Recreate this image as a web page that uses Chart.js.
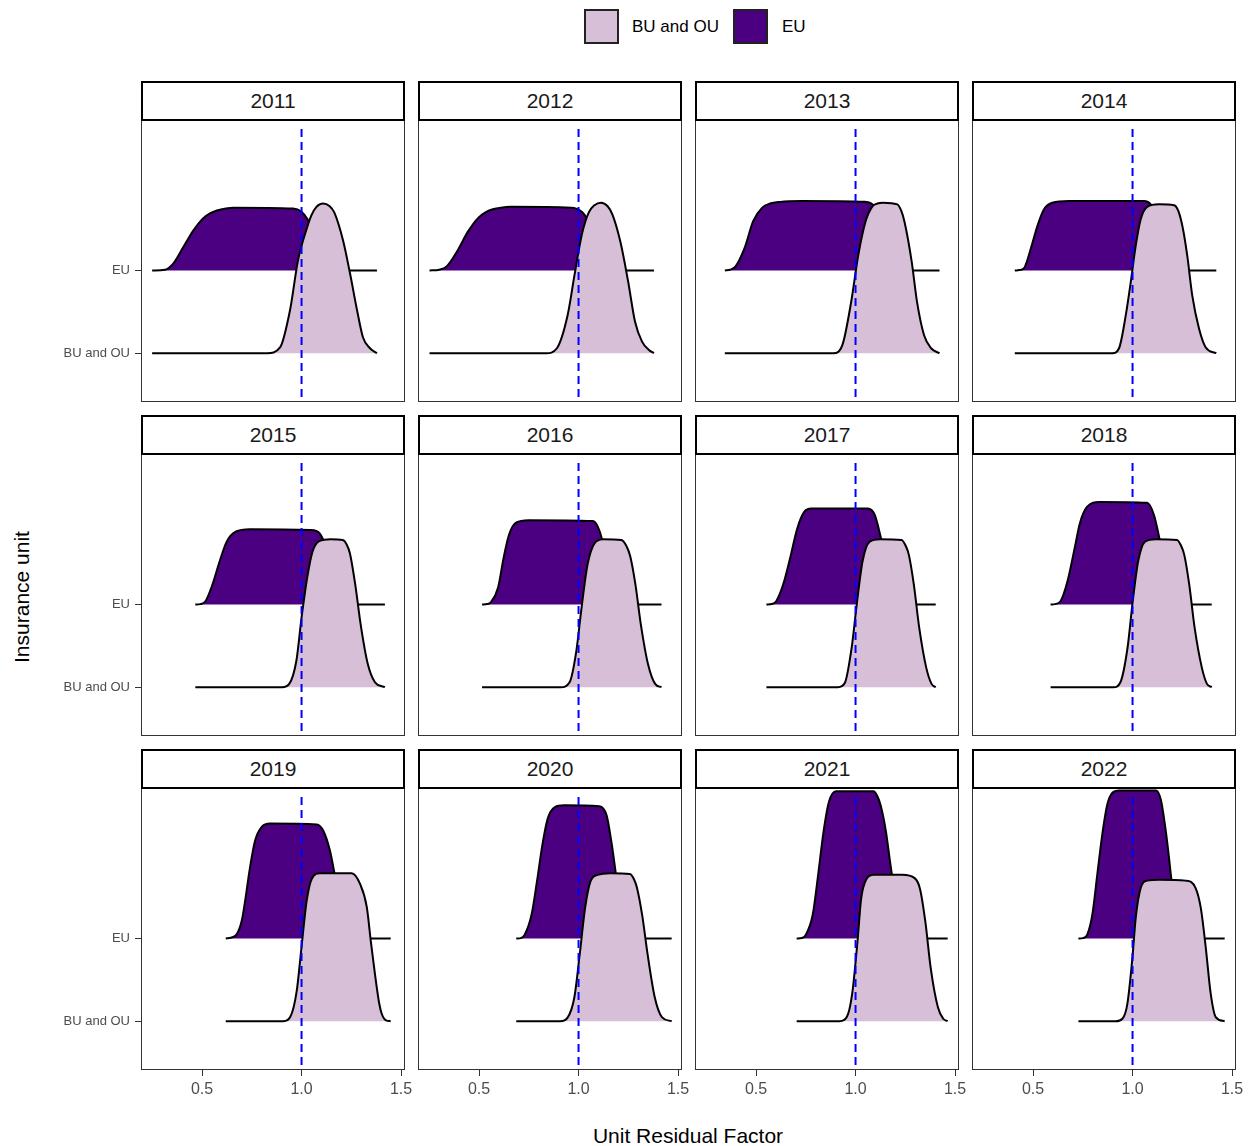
<!DOCTYPE html>
<html>
<head>
<meta charset="utf-8">
<script src="https://cdn.jsdelivr.net/npm/chart.js@4.4.1/dist/chart.umd.min.js"></script>
<style>
  html, body { margin: 0; padding: 0; background: #fff; }
  body { width: 1252px; height: 1146px; position: relative; overflow: hidden;
         font-family: "Liberation Sans", Arial, sans-serif; }
  canvas { position: absolute; }
  .strip { position: absolute; box-sizing: border-box; border: 2px solid #000; background: #fff;
           display: flex; align-items: center; justify-content: center;
           font-size: 21px; color: #1a1a1a; }
  .key { position: absolute; box-sizing: border-box; width: 35px; height: 35px; border: 2px solid #222; }
  .ltxt { position: absolute; font-size: 17px; color: #000; line-height: 20px; }
  .title { position: absolute; font-size: 21px; color: #000; white-space: nowrap; }
</style>
</head>
<body>
<div class="key" style="left:584px;top:9px;background:#D8BFD8"></div>
<div class="ltxt" style="left:632px;top:17px">BU and OU</div>
<div class="key" style="left:733px;top:9px;background:#4B0082"></div>
<div class="ltxt" style="left:782px;top:17px">EU</div>
<div class="title" style="left:688px;top:1124px;transform:translateX(-50%)">Unit Residual Factor</div>
<div class="title" style="left:22px;top:597px;transform:translate(-50%,-50%) rotate(-90deg)">Insurance unit</div>

<script>
// ---------------- DATA ----------------
const years = ['2011','2012','2013','2014','2015','2016','2017','2018','2019','2020','2021','2022'];
const categories = ['BU and OU', 'EU'];      // y positions 1 and 2
const xTicks = [0.5, 1.0, 1.5];
const refLineX = 1.0;

// ridge profiles: [x, ridge height in category units]
const eu_2011 = [[0.249,0],[0.314,0.01],[0.354,0.08],[0.405,0.28],[0.455,0.48],[0.505,0.63],[0.54,0.69],[0.575,0.725],[0.62,0.75],[0.656,0.76],[0.957,0.75],[1.0,0.71],[1.03,0.62],[1.08,0.38],[1.13,0.12],[1.18,0.02],[1.22,0],[1.379,0]];
const bu_2011 = [[0.249,0],[0.827,0],[0.892,0.07],[0.942,0.52],[0.982,1.12],[1.028,1.52],[1.05,1.67],[1.075,1.77],[1.108,1.81],[1.14,1.78],[1.165,1.70],[1.209,1.36],[1.244,0.96],[1.279,0.52],[1.309,0.19],[1.344,0.06],[1.379,0]];
const eu_2012 = [[0.251,0],[0.30,0.01],[0.337,0.05],[0.389,0.23],[0.444,0.47],[0.497,0.64],[0.53,0.70],[0.569,0.74],[0.61,0.76],[0.658,0.77],[0.962,0.76],[1.016,0.71],[1.05,0.6],[1.10,0.35],[1.15,0.1],[1.20,0.01],[1.24,0],[1.379,0]];
const bu_2012 = [[0.251,0],[0.837,0],[0.891,0.06],[0.945,0.46],[0.980,0.95],[1.016,1.43],[1.051,1.70],[1.08,1.79],[1.113,1.82],[1.145,1.78],[1.17,1.68],[1.21,1.35],[1.249,0.87],[1.284,0.38],[1.319,0.14],[1.354,0.04],[1.379,0]];
const eu_2013 = [[0.343,0],[0.37,0.01],[0.397,0.05],[0.442,0.27],[0.486,0.60],[0.531,0.76],[0.57,0.81],[0.621,0.83],[0.727,0.84],[1.05,0.83],[1.09,0.79],[1.13,0.6],[1.17,0.25],[1.21,0.05],[1.25,0],[1.422,0]];
const bu_2013 = [[0.343,0],[0.889,0],[0.934,0.10],[0.978,0.62],[1.014,1.19],[1.05,1.59],[1.083,1.77],[1.11,1.81],[1.138,1.82],[1.21,1.80],[1.23,1.72],[1.246,1.59],[1.282,1.11],[1.309,0.62],[1.344,0.22],[1.38,0.06],[1.422,0]];
const eu_2014 = [[0.408,0],[0.43,0.005],[0.455,0.03],[0.488,0.26],[0.522,0.54],[0.555,0.74],[0.597,0.82],[0.68,0.84],[1.058,0.84],[1.091,0.80],[1.13,0.6],[1.17,0.25],[1.21,0.05],[1.25,0],[1.421,0]];
const bu_2014 = [[0.408,0],[0.898,0],[0.932,0.06],[0.966,0.46],[0.991,0.86],[1.016,1.30],[1.041,1.62],[1.074,1.77],[1.133,1.80],[1.209,1.79],[1.23,1.72],[1.252,1.52],[1.275,1.18],[1.30,0.70],[1.334,0.30],[1.368,0.07],[1.421,0]];
const eu_2015 = [[0.466,0],[0.49,0.005],[0.517,0.04],[0.552,0.24],[0.588,0.52],[0.624,0.76],[0.669,0.88],[0.741,0.91],[1.046,0.90],[1.091,0.86],[1.13,0.65],[1.17,0.3],[1.21,0.06],[1.25,0],[1.419,0]];
const bu_2015 = [[0.466,0],[0.902,0],[0.938,0.04],[0.974,0.32],[1.0,0.84],[1.028,1.32],[1.055,1.64],[1.091,1.77],[1.145,1.79],[1.207,1.78],[1.228,1.72],[1.243,1.62],[1.27,1.24],[1.297,0.76],[1.333,0.28],[1.369,0.06],[1.419,0]];
const eu_2016 = [[0.515,0],[0.54,0.005],[0.56,0.03],[0.596,0.21],[0.623,0.56],[0.65,0.84],[0.686,0.99],[0.749,1.02],[1.072,1.01],[1.107,0.88],[1.14,0.55],[1.17,0.22],[1.20,0.05],[1.24,0],[1.417,0]];
const bu_2016 = [[0.515,0],[0.91,0],[0.955,0.06],[0.989,0.44],[1.015,0.96],[1.045,1.48],[1.08,1.74],[1.123,1.79],[1.215,1.78],[1.24,1.71],[1.26,1.58],[1.286,1.24],[1.313,0.76],[1.349,0.28],[1.385,0.04],[1.417,0]];
const eu_2017 = [[0.552,0],[0.58,0.005],[0.601,0.04],[0.636,0.24],[0.671,0.56],[0.707,0.92],[0.742,1.12],[0.778,1.16],[1.062,1.16],[1.097,1.08],[1.124,0.84],[1.16,0.45],[1.20,0.1],[1.25,0],[1.403,0]];
const bu_2017 = [[0.552,0],[0.911,0],[0.946,0.05],[0.98,0.47],[1.006,1.0],[1.035,1.52],[1.071,1.76],[1.124,1.79],[1.231,1.78],[1.252,1.71],[1.268,1.60],[1.293,1.24],[1.32,0.72],[1.355,0.24],[1.382,0.04],[1.403,0]];
const eu_2018 = [[0.588,0],[0.61,0.005],[0.638,0.04],[0.673,0.28],[0.709,0.68],[0.735,0.98],[0.771,1.18],[0.833,1.24],[1.073,1.23],[1.108,1.08],[1.135,0.80],[1.17,0.4],[1.21,0.08],[1.26,0],[1.398,0]];
const bu_2018 = [[0.588,0],[0.904,0],[0.939,0.06],[0.975,0.48],[1.001,1.04],[1.028,1.52],[1.063,1.76],[1.117,1.79],[1.223,1.78],[1.244,1.71],[1.26,1.60],[1.285,1.24],[1.312,0.72],[1.348,0.24],[1.374,0.04],[1.398,0]];
const eu_2019 = [[0.619,0],[0.645,0.01],[0.674,0.05],[0.70,0.22],[0.716,0.45],[0.741,0.86],[0.766,1.18],[0.80,1.35],[0.842,1.39],[1.076,1.38],[1.11,1.30],[1.143,1.06],[1.163,0.82],[1.19,0.45],[1.22,0.15],[1.26,0],[1.448,0]];
const bu_2019 = [[0.619,0],[0.909,0],[0.943,0.05],[0.976,0.37],[1.0,0.90],[1.026,1.46],[1.051,1.72],[1.093,1.79],[1.252,1.79],[1.294,1.66],[1.328,1.38],[1.349,0.95],[1.369,0.57],[1.39,0.22],[1.403,0.09],[1.425,0.01],[1.448,0]];
const eu_2020 = [[0.687,0],[0.71,0.005],[0.728,0.04],[0.764,0.29],[0.791,0.69],[0.818,1.13],[0.845,1.45],[0.881,1.59],[0.926,1.61],[1.105,1.60],[1.141,1.49],[1.165,1.17],[1.186,0.81],[1.21,0.4],[1.235,0.12],[1.27,0],[1.468,0]];
const bu_2020 = [[0.687,0],[0.908,0],[0.944,0.04],[0.979,0.29],[1.006,0.81],[1.033,1.37],[1.06,1.69],[1.096,1.77],[1.159,1.79],[1.258,1.78],[1.278,1.72],[1.293,1.62],[1.32,1.28],[1.347,0.81],[1.383,0.29],[1.419,0.05],[1.468,0]];
const eu_2021 = [[0.704,0],[0.73,0.005],[0.749,0.04],[0.785,0.29],[0.812,0.77],[0.839,1.29],[0.866,1.65],[0.902,1.78],[1.09,1.78],[1.108,1.73],[1.126,1.61],[1.153,1.29],[1.171,0.97],[1.19,0.65],[1.21,0.3],[1.24,0.06],[1.27,0],[1.463,0]];
const bu_2021 = [[0.704,0],[0.92,0],[0.956,0.05],[0.983,0.33],[1.01,0.97],[1.028,1.48],[1.055,1.72],[1.091,1.77],[1.235,1.77],[1.297,1.73],[1.324,1.6],[1.351,1.2],[1.378,0.64],[1.414,0.17],[1.441,0.03],[1.463,0]];
const eu_2022 = [[0.728,0],[0.75,0.005],[0.773,0.05],[0.798,0.29],[0.823,0.78],[0.848,1.26],[0.873,1.62],[0.898,1.76],[0.932,1.79],[1.117,1.79],[1.142,1.68],[1.167,1.30],[1.183,0.98],[1.195,0.72],[1.22,0.3],[1.25,0.06],[1.28,0],[1.463,0]];
const bu_2022 = [[0.728,0],[0.916,0],[0.949,0.03],[0.974,0.21],[0.999,0.76],[1.016,1.25],[1.041,1.61],[1.074,1.70],[1.133,1.71],[1.267,1.70],[1.317,1.61],[1.343,1.37],[1.368,0.89],[1.393,0.33],[1.418,0.05],[1.463,0]];

// ---------------- BUILD ----------------
const euByYear = {'2011':eu_2011,'2012':eu_2012,'2013':eu_2013,'2014':eu_2014,'2015':eu_2015,'2016':eu_2016,
                  '2017':eu_2017,'2018':eu_2018,'2019':eu_2019,'2020':eu_2020,'2021':eu_2021,'2022':eu_2022};
const buByYear = {'2011':bu_2011,'2012':bu_2012,'2013':bu_2013,'2014':bu_2014,'2015':bu_2015,'2016':bu_2016,
                  '2017':bu_2017,'2018':bu_2018,'2019':bu_2019,'2020':bu_2020,'2021':bu_2021,'2022':bu_2022};

const X_MIN = 0.193, X_MAX = 1.52, Y_MIN = 0.41, Y_MAX = 3.82, VLINE_TOP = 3.71;
const FONT = '"Liberation Sans", Arial, sans-serif';
const colLeft = [141, 418, 695, 972];
const rowTop = [120, 454, 788];
const PW = 264, PH = 282;
const ML = 90, MT = 4, MR = 14, MB = 36;

const borderPlugin = {
  id: 'panelBorder',
  afterDraw(chart) {
    const a = chart.chartArea, ctx = chart.ctx;
    ctx.save();
    ctx.strokeStyle = '#333';
    ctx.lineWidth = 1;
    ctx.strokeRect(Math.round(a.left) + 0.5, Math.round(a.top) + 0.5,
                   Math.round(a.right - a.left) - 1, Math.round(a.bottom - a.top) - 1);
    ctx.restore();
  }
};

years.forEach((yr, idx) => {
  const c = idx % 4, r = Math.floor(idx / 4);
  const pl = colLeft[c], pt = rowTop[r];

  const strip = document.createElement('div');
  strip.className = 'strip';
  strip.style.left = pl + 'px';
  strip.style.top = (pt - 39) + 'px';
  strip.style.width = PW + 'px';
  strip.style.height = '40px';
  strip.textContent = yr;

  const cv = document.createElement('canvas');
  cv.width = PW + ML + MR; cv.height = PH + MT + MB;
  cv.style.width = cv.width + 'px'; cv.style.height = cv.height + 'px';
  cv.style.left = (pl - ML) + 'px'; cv.style.top = (pt - MT) + 'px';
  document.body.appendChild(cv);
  document.body.appendChild(strip);

  const showX = r === 2, showY = c === 0;
  new Chart(cv.getContext('2d'), {
    type: 'line',
    data: {
      datasets: [
        { // reference line (drawn on top)
          data: [{x: refLineX, y: VLINE_TOP}, {x: refLineX, y: Y_MIN}],
          borderColor: '#0000FF', borderWidth: 2, borderDash: [8, 5],
          pointRadius: 0, fill: false, tension: 0
        },
        { // BU and OU ridge
          label: categories[0],
          data: buByYear[yr].map(([x, h]) => ({x, y: 1 + h})),
          borderColor: '#000', borderWidth: 2, backgroundColor: '#D8BFD8',
          fill: {value: 1}, pointRadius: 0, cubicInterpolationMode: 'monotone'
        },
        { // EU ridge
          label: categories[1],
          data: euByYear[yr].map(([x, h]) => ({x, y: 2 + h})),
          borderColor: '#000', borderWidth: 2, backgroundColor: '#4B0082',
          fill: {value: 2}, pointRadius: 0, cubicInterpolationMode: 'monotone'
        }
      ]
    },
    options: {
      responsive: false, animation: false, devicePixelRatio: 1,
      layout: { autoPadding: false, padding: {top: MT, right: MR, left: 0, bottom: 0} },
      plugins: { legend: {display: false}, tooltip: {enabled: false} },
      scales: {
        x: {
          type: 'linear', min: X_MIN, max: X_MAX,
          afterBuildTicks: s => { s.ticks = xTicks.map(v => ({value: v})); },
          afterFit: s => { s.height = MB; s.paddingLeft = 0; s.paddingRight = 0; },
          ticks: { display: showX, autoSkip: false, maxRotation: 0, padding: 4,
                   color: '#4d4d4d', font: {family: FONT, size: 16},
                   callback: v => Number(v).toFixed(1) },
          grid: { display: showX, drawOnChartArea: false, drawTicks: true, tickLength: 6,
                  color: '#333', lineWidth: 1 },
          border: { display: false }
        },
        y: {
          type: 'linear', min: Y_MIN, max: Y_MAX,
          afterBuildTicks: s => { s.ticks = categories.map((_, i) => ({value: i + 1})); },
          afterFit: s => { s.width = ML; s.paddingTop = 0; s.paddingBottom = 0; },
          ticks: { display: showY, autoSkip: false, padding: 5,
                   color: '#4d4d4d', font: {family: FONT, size: 13},
                   callback: v => categories[Math.round(v) - 1] },
          grid: { display: showY, drawOnChartArea: false, drawTicks: true, tickLength: 6,
                  color: '#333', lineWidth: 1 },
          border: { display: false }
        }
      }
    },
    plugins: [borderPlugin]
  });
});
</script>
</body>
</html>
